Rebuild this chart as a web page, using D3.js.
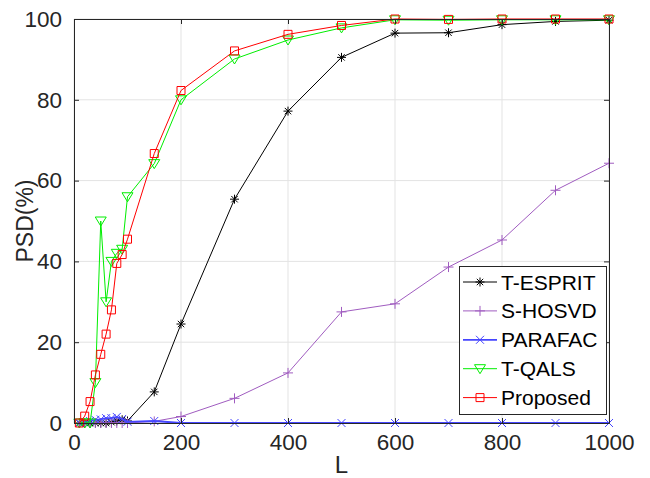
<!DOCTYPE html>
<html><head><meta charset="utf-8">
<script src="https://cdn.jsdelivr.net/npm/d3@7"></script>
<style>body{margin:0;background:#fff}svg{display:block;font-family:"Liberation Sans",Arial,sans-serif}</style>
</head><body><svg id="c" width="650" height="478"></svg>
<script>
const L = [10,20,30,40,50,60,70,80,90,100,150,200,300,400,500,600,700,800,900,1000];
const tEsprit  = [0,0,0,0,0,0,0.2,0.5,0.8,0.5,7.7,24.5,55.4,77.2,90.5,96.5,96.6,98.6,99.4,99.7];
const sHosvd   = [0,0,0,0,0,0,0,0,0,0,0.4,1.6,6.1,12.4,27.5,29.5,38.6,45.3,57.6,64.3];
const parafac  = [0,0.2,0.5,0.8,0.9,1.2,1.2,1.5,1.0,0.3,0.5,0,0,0,0,0,0,0,0,0];
const tQals    = [0,0,0,10,50,30,40,42,43,56,64.2,80,90.1,94.8,97.8,99.8,99.7,99.8,99.8,99.8];
const proposed = [0,1.7,5.3,11.9,17,22,28,39.5,41.7,45.5,66.7,82.3,92.1,96.2,98.4,100,99.9,100,100,100];
const seriesNames = ["T-ESPRIT","S-HOSVD","PARAFAC","T-QALS","Proposed"];
const xTicks = [0,200,400,600,800,1000];
const yTicks = [0,20,40,60,80,100];

(function(){
const series = [
  {name:seriesNames[0], vals:tEsprit,  color:"#000000", lw:1,   marker:"star"},
  {name:seriesNames[1], vals:sHosvd,   color:"#a05cc0", lw:1,   marker:"plus"},
  {name:seriesNames[2], vals:parafac,  color:"#4646ff", lw:1.8, marker:"x"},
  {name:seriesNames[3], vals:tQals,    color:"#00ee00", lw:1,   marker:"tri"},
  {name:seriesNames[4], vals:proposed, color:"#ff0000", lw:1,   marker:"sq"}
];

const svg = d3.select("#c");
const pL=74, pR=609, pT=19, pB=423;
const x = d3.scaleLinear().domain([0,1000]).range([pL,pR]);
const y = d3.scaleLinear().domain([0,100]).range([pB,pT]);
const axisCol = "#262626";

const g = svg.append("g");
g.selectAll(".gx").data(xTicks).join("line")
  .attr("x1",d=>x(d)).attr("x2",d=>x(d)).attr("y1",pT).attr("y2",pB)
  .attr("stroke","#e3e3e3").attr("stroke-width",1);
g.selectAll(".gy").data(yTicks).join("line")
  .attr("y1",d=>y(d)).attr("y2",d=>y(d)).attr("x1",pL).attr("x2",pR)
  .attr("stroke","#e3e3e3").attr("stroke-width",1);

function markerPath(type){
  switch(type){
    case "star": {const r=4.5,d=3.2; return `M${-r},0L${r},0M0,${-r}L0,${r}M${-d},${-d}L${d},${d}M${-d},${d}L${d},${-d}`;}
    case "plus": {const r=5; return `M${-r},0L${r},0M0,${-r}L0,${r}`;}
    case "x": {const r=4; return `M${-r},${-r}L${r},${r}M${-r},${r}L${r},${-r}`;}
    case "tri": return "M-5.5,-4L5.5,-4L0,5Z";
    case "sq": return "M-4,-4L4,-4L4,4L-4,4Z";
  }
}

const plot = svg.append("g");
series.forEach(s=>{
  const pts = L.map((l,i)=>[l,s.vals[i]]);
  plot.append("path").datum(pts)
    .attr("d", d3.line().x(d=>x(d[0])).y(d=>y(d[1])))
    .attr("fill","none").attr("stroke",s.color).attr("stroke-width",s.lw);
  plot.selectAll(null).data(pts).join("path")
    .attr("transform",d=>`translate(${x(d[0])},${y(d[1])})`)
    .attr("d",markerPath(s.marker))
    .attr("fill","none").attr("stroke",s.color).attr("stroke-width",1);
});

const fs = 22.5;
const fmt = d3.format("d");
const xa = d3.axisBottom(x).tickValues(xTicks).tickFormat(fmt).tickSizeInner(-5).tickSizeOuter(0).tickPadding(11);
const xg = svg.append("g").attr("transform",`translate(0,${pB})`).call(xa);
const ya = d3.axisLeft(y).tickValues(yTicks).tickFormat(fmt).tickSizeInner(-5).tickSizeOuter(0).tickPadding(12);
const yg = svg.append("g").attr("transform",`translate(${pL},0)`).call(ya);
const xt = svg.append("g").attr("transform",`translate(0,${pT})`)
  .call(d3.axisTop(x).tickValues(xTicks).tickSizeInner(-5).tickSizeOuter(0).tickFormat(""));
const yr = svg.append("g").attr("transform",`translate(${pR},0)`)
  .call(d3.axisRight(y).tickValues(yTicks).tickSizeInner(-5).tickSizeOuter(0).tickFormat(""));
[xg,yg,xt,yr].forEach(a=>{
  a.select(".domain").attr("stroke",axisCol).attr("stroke-width",1);
  a.selectAll(".tick line").attr("stroke",axisCol);
  a.selectAll("text").attr("fill",axisCol).style("font-size",fs+"px").style("font-family","Liberation Sans, Arial, sans-serif");
});
xg.selectAll("text").attr("dy","0.71em");

svg.append("text").attr("x",(pL+pR)/2).attr("y",473).attr("text-anchor","middle")
  .attr("fill",axisCol).style("font-size","24px").text("L");
svg.append("text").attr("transform",`translate(33,${(pT+pB)/2}) rotate(-90)`)
  .attr("text-anchor","middle").attr("fill",axisCol).style("font-size","23px").text("PSD(%)");

const lg = svg.append("g");
lg.append("rect").attr("x",459.5).attr("y",266.5).attr("width",147).attr("height",148)
  .attr("fill","#fff").attr("stroke",axisCol).attr("stroke-width",1);
series.forEach((s,i)=>{
  const yy = 282 + i*28.9;
  lg.append("line").attr("x1",463).attr("x2",497).attr("y1",yy).attr("y2",yy)
    .attr("stroke",s.color).attr("stroke-width",s.lw);
  lg.append("path").attr("transform",`translate(480,${yy})`).attr("d",markerPath(s.marker))
    .attr("fill","none").attr("stroke",s.color).attr("stroke-width",1);
  lg.append("text").attr("x",501).attr("y",yy).attr("dy","0.36em")
    .attr("fill","#000").style("font-size","21px").text(s.name);
});
})();
</script></body></html>
